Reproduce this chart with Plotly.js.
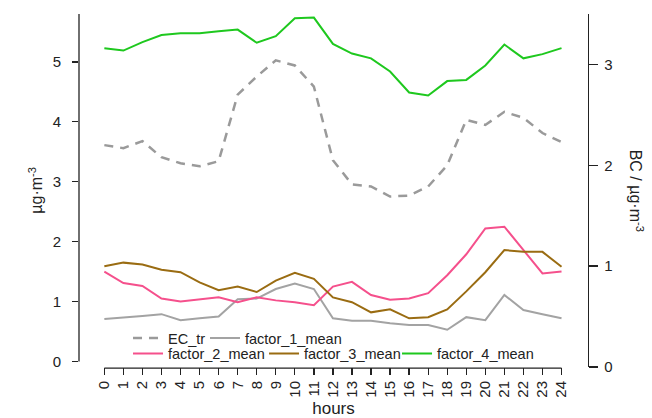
<!DOCTYPE html>
<html><head><meta charset="utf-8">
<script src="https://cdn.plot.ly/plotly-3.0.1.min.js"></script>
<style>html,body{margin:0;padding:0;background:#fff}#c{width:652px;height:418px}</style>
</head><body><div id="c"></div>
<script>
const hours = [0,1,2,3,4,5,6,7,8,9,10,11,12,13,14,15,16,17,18,19,20,21,22,23,24];
const hourLabels = hours.map(String);
const ecTr = [2.20,2.17,2.24,2.08,2.02,1.99,2.04,2.70,2.88,3.04,2.99,2.78,2.05,1.81,1.79,1.69,1.70,1.79,2.00,2.45,2.40,2.53,2.47,2.32,2.23];
const factor1 = [0.71,0.73,0.76,0.79,0.69,0.72,0.75,1.04,1.05,1.21,1.30,1.21,0.72,0.68,0.68,0.64,0.61,0.61,0.53,0.74,0.69,1.11,0.86,0.79,0.72];
const factor2 = [1.50,1.31,1.26,1.05,1.00,1.03,1.07,0.99,1.07,1.02,0.99,0.94,1.25,1.33,1.11,1.03,1.05,1.14,1.44,1.79,2.22,2.25,1.86,1.47,1.50];
const factor3 = [1.59,1.65,1.62,1.53,1.49,1.32,1.19,1.25,1.16,1.35,1.48,1.38,1.07,0.99,0.82,0.87,0.72,0.74,0.87,1.17,1.49,1.86,1.83,1.83,1.58];
const factor4 = [5.23,5.19,5.33,5.45,5.48,5.48,5.51,5.54,5.32,5.43,5.73,5.74,5.30,5.14,5.06,4.84,4.49,4.44,4.68,4.70,4.94,5.29,5.06,5.13,5.23];
const leftTicks = [0,1,2,3,4,5];
const rightTicks = [0,1,2,3];

const FONT = 'Liberation Sans, Arial, sans-serif';
const TXT = '#222';
const leftRange = [-0.092, 5.80];

const traces = [
  {x:hours, y:ecTr, name:'EC_tr', yaxis:'y2', mode:'lines', legend:'legend',
   line:{color:'#9a9a9a', width:2.5, dash:'9px,7px'}},
  {x:hours, y:factor1, name:'factor_1_mean', mode:'lines', legend:'legend2',
   line:{color:'#a3a3a3', width:2}},
  {x:hours, y:factor2, name:'factor_2_mean', mode:'lines', legend:'legend3',
   line:{color:'#f5508c', width:2}},
  {x:hours, y:factor3, name:'factor_3_mean', mode:'lines', legend:'legend4',
   line:{color:'#9a6c12', width:2}},
  {x:hours, y:factor4, name:'factor_4_mean', mode:'lines', legend:'legend5',
   line:{color:'#1ec81e', width:2}}
];

function leg(x, y) {
  return {orientation:'h', xanchor:'left', yanchor:'middle', bgcolor:'rgba(0,0,0,0)',
    font:{family:FONT, size:14.5, color:TXT}, itemwidth:30, x:x, y:y};
}

const layout = {
  width:652, height:418,
  margin:{l:79, r:64, t:14, b:51, pad:0},
  paper_bgcolor:'#fff', plot_bgcolor:'#fff',
  font:{family:FONT, size:15, color:TXT},
  showlegend:true,
  legend:leg(0.0963, 0.082),
  legend2:leg(0.2475, 0.082),
  legend3:leg(0.0963, 0.038),
  legend4:leg(0.3635, 0.038),
  legend5:leg(0.6248, 0.038),
  xaxis:{range:[-1.33, 25.39], tickmode:'array', tickvals:hours, ticktext:hourLabels,
    tickangle:-90, ticks:'outside', ticklen:7, tickwidth:1.3, tickcolor:'#222',
    showline:false, showgrid:false, zeroline:false,
    tickfont:{family:FONT, size:15, color:TXT},
    title:{text:'hours', font:{family:FONT, size:17, color:TXT}, standoff:7}},
  yaxis:{range:leftRange, tickmode:'array', tickvals:leftTicks,
    ticks:'outside', ticklen:6, tickwidth:1.3, tickcolor:'#222',
    showline:false, showgrid:false, zeroline:false,
    tickfont:{family:FONT, size:15, color:TXT}, ticklabelstandoff:8},
  yaxis2:{range:[0,3.5], overlaying:'y', side:'right', tickmode:'array', tickvals:rightTicks,
    ticks:'outside', ticklen:9, tickwidth:1.3, tickcolor:'#222',
    showline:true, linecolor:'#222', linewidth:1.3, showgrid:false, zeroline:false,
    tickfont:{family:FONT, size:15, color:TXT}, ticklabelstandoff:3},
  shapes:[
    {type:'line', xref:'x', yref:'paper', x0:hours[0], x1:hours[hours.length-1], y0:-0.003, y1:-0.003,
     line:{color:'#222', width:1.3}},
    {type:'line', xref:'paper', yref:'y', x0:0, x1:0, y0:leftTicks[0], y1:leftRange[1],
     line:{color:'#222', width:1.3}}
  ],
  annotations:[
    {xref:'paper', yref:'paper', x:-0.086, y:0.5, text:'µg·m<sup>-3</sup>', showarrow:false,
     textangle:-90, font:{family:FONT, size:16, color:TXT}, xanchor:'center', yanchor:'middle'},
    {xref:'paper', yref:'paper', x:1.096, y:0.5, text:'BC / µg·m<sup>-3</sup>', showarrow:false,
     textangle:90, font:{family:FONT, size:16, color:TXT}, xanchor:'center', yanchor:'middle'}
  ]
};

Plotly.newPlot('c', traces, layout, {staticPlot:true, displayModeBar:false});
</script></body></html>
